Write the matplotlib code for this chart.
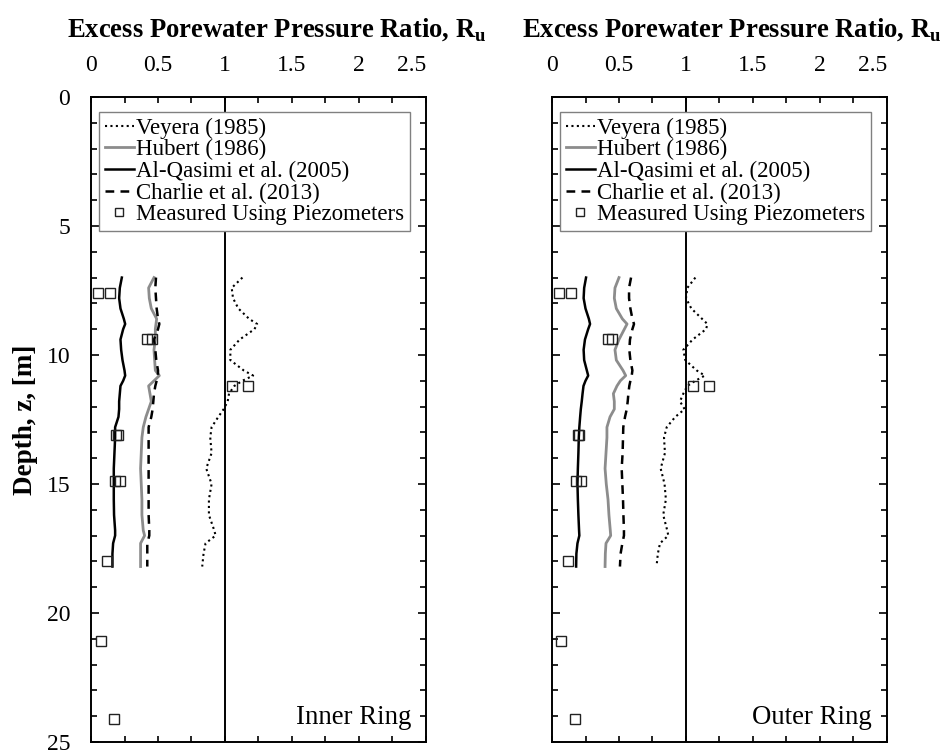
import matplotlib
matplotlib.use("Agg")
import matplotlib.pyplot as plt
from matplotlib.ticker import MultipleLocator, FuncFormatter

plt.rcParams['font.family'] = ['Liberation Serif', 'DejaVu Serif']
plt.rcParams['mathtext.fontset'] = 'custom'
plt.rcParams['mathtext.rm'] = 'Liberation Serif'
plt.rcParams['mathtext.bf'] = 'Liberation Serif:bold'

# depth grid for the predicted Ru profiles [m]
depth = [7.0, 7.4, 7.8, 8.2, 8.6, 8.8, 9.0, 9.4, 9.8, 10.2, 10.6, 10.8, 11.0, 11.2, 11.5,
         11.8, 12.1, 12.4, 12.8, 13.2, 13.8, 14.4, 15.0, 15.6, 16.2, 16.8, 17.0, 17.3, 17.7, 18.2]

# inner ring
inner_veyera = [1.13, 1.05, 1.06, 1.10, 1.18, 1.24, 1.22, 1.11, 1.04, 1.04, 1.14, 1.21, 1.13, 1.07, 1.03,
                1.02, 0.99, 0.95, 0.90, 0.89, 0.90, 0.86, 0.90, 0.88, 0.88, 0.92, 0.93, 0.855, 0.84, 0.83]
inner_hubert = [0.47, 0.43, 0.435, 0.45, 0.49, 0.485, 0.48, 0.48, 0.47, 0.475, 0.48, 0.51, 0.47, 0.43, 0.44,
                0.45, 0.43, 0.41, 0.39, 0.38, 0.375, 0.37, 0.375, 0.38, 0.38, 0.39, 0.40, 0.37, 0.37, 0.37]
inner_alqasimi = [0.23, 0.215, 0.21, 0.22, 0.245, 0.255, 0.24, 0.22, 0.225, 0.235, 0.25, 0.255, 0.24, 0.22, 0.215,
                  0.21, 0.21, 0.205, 0.18, 0.18, 0.175, 0.17, 0.17, 0.17, 0.172, 0.18, 0.18, 0.165, 0.16, 0.16]
inner_charlie = [0.485, 0.48, 0.485, 0.49, 0.50, 0.51, 0.50, 0.47, 0.48, 0.487, 0.50, 0.50, 0.49, 0.48, 0.47,
                 0.465, 0.46, 0.45, 0.43, 0.43, 0.43, 0.43, 0.43, 0.43, 0.43, 0.435, 0.435, 0.42, 0.42, 0.42]

# outer ring
outer_veyera = [1.07, 1.01, 1.0, 1.04, 1.12, 1.16, 1.15, 1.05, 0.98, 0.995, 1.08, 1.14, 1.07, 1.01, 0.98,
                0.955, 0.99, 0.92, 0.856, 0.836, 0.843, 0.811, 0.84, 0.85, 0.83, 0.86, 0.868, 0.806, 0.79, 0.78]
outer_hubert = [0.50, 0.47, 0.465, 0.48, 0.525, 0.56, 0.54, 0.50, 0.47, 0.48, 0.53, 0.55, 0.51, 0.485, 0.458,
                0.465, 0.465, 0.433, 0.41, 0.41, 0.403, 0.396, 0.405, 0.418, 0.425, 0.435, 0.438, 0.403, 0.398, 0.396]
outer_alqasimi = [0.254, 0.24, 0.236, 0.25, 0.275, 0.284, 0.27, 0.246, 0.236, 0.24, 0.26, 0.27, 0.25, 0.235, 0.228,
                  0.222, 0.215, 0.21, 0.204, 0.20, 0.197, 0.193, 0.19, 0.193, 0.197, 0.202, 0.204, 0.19, 0.182, 0.18]
outer_charlie = [0.59, 0.575, 0.575, 0.585, 0.60, 0.612, 0.60, 0.582, 0.577, 0.585, 0.60, 0.595, 0.585, 0.577, 0.57,
                 0.565, 0.558, 0.545, 0.532, 0.53, 0.527, 0.52, 0.525, 0.53, 0.533, 0.537, 0.537, 0.525, 0.512, 0.507]

# piezometer readings
meas_depth = [7.6, 7.6, 9.4, 9.4, 11.2, 11.2, 13.1, 13.1, 14.9, 14.9, 18.0, 21.1, 24.1]
inner_meas = [0.05, 0.14, 0.42, 0.455, 1.05, 1.175, 0.19, 0.205, 0.18, 0.22, 0.12, 0.075, 0.17]
outer_meas = [0.05, 0.14, 0.42, 0.45, 1.05, 1.17, 0.195, 0.205, 0.18, 0.22, 0.12, 0.07, 0.17]

x_ticks = [0, 0.5, 1, 1.5, 2, 2.5]

FS = 17


def draw_panel(ax, veyera, hubert, alqasimi, charlie, meas, ring, show_ylabels, title_x):
    ax.axvline(1, color='black', lw=1.4, zorder=1)
    ax.plot(veyera, depth, color='black', lw=1.5, ls=(0, (1, 1.6)), label='Veyera (1985)')
    ax.plot(hubert, depth, color='#8c8c8c', lw=2.0, label='Hubert (1986)')
    ax.plot(alqasimi, depth, color='black', lw=1.8, label='Al-Qasimi et al. (2005)')
    ax.plot(charlie, depth, color='black', lw=1.8, ls=(0, (3.5, 2.5)), label='Charlie et al. (2013)')
    ax.plot(meas, meas_depth, ls='none', marker='s', ms=7, mfc='none', mec='#222222', mew=1.0,
            label='Measured Using Piezometers')

    ax.set_xlim(0, 2.5)
    ax.set_ylim(25, 0)
    ax.set_xticks(x_ticks)
    ax.xaxis.set_major_formatter(FuncFormatter(lambda v, p: f"{v:g}"))
    ax.xaxis.set_minor_locator(MultipleLocator(0.25))
    ax.yaxis.set_major_locator(MultipleLocator(5))
    ax.yaxis.set_minor_locator(MultipleLocator(1))
    ax.tick_params(which='both', direction='in', top=True, bottom=True, left=True, right=True,
                   labeltop=True, labelbottom=False, labelleft=show_ylabels, width=1.2,
                   labelsize=FS, pad=15)
    ax.tick_params(axis='x', which='both', length=4.5)
    ax.tick_params(axis='y', which='major', length=5.5)
    ax.tick_params(axis='y', which='minor', length=4)
    ax.get_xticklabels()[-1].set_horizontalalignment('right')
    for sp in ax.spines.values():
        sp.set_linewidth(1.4)

    ax.text(title_x, 1.104, r"Excess Porewater Pressure Ratio, R$_{\mathbf{u}}$", transform=ax.transAxes,
            ha='center', va='center', fontsize=19.2, fontweight='bold')
    if show_ylabels:
        ax.text(-0.197, 0.5, 'Depth, z, [m]', transform=ax.transAxes, rotation=90,
                ha='center', va='center', fontsize=19.5, fontweight='bold')

    ax.text(0.955, 0.018, ring, transform=ax.transAxes, ha='right', va='bottom', fontsize=19.3)

    leg = ax.legend(loc='upper right', bbox_to_anchor=(0.952, 0.977), borderaxespad=0,
                    fontsize=16.5, handlelength=1.25, handletextpad=0.1, borderpad=0.25,
                    labelspacing=0.02, fancybox=False, framealpha=1, edgecolor='#808080',
                    markerscale=0.75, numpoints=1)
    leg.get_frame().set_linewidth(1.0)


fig = plt.figure(figsize=(9.47, 7.51), dpi=100)
ax1 = fig.add_axes([0.0961, 0.0120, 0.3537, 0.8589])
ax2 = fig.add_axes([0.5829, 0.0120, 0.3537, 0.8589])

draw_panel(ax1, inner_veyera, inner_hubert, inner_alqasimi, inner_charlie, inner_meas,
           'Inner Ring', True, 0.556)
draw_panel(ax2, outer_veyera, outer_hubert, outer_alqasimi, outer_charlie, outer_meas,
           'Outer Ring', False, 0.537)

fig.savefig('out.png', dpi=100)
